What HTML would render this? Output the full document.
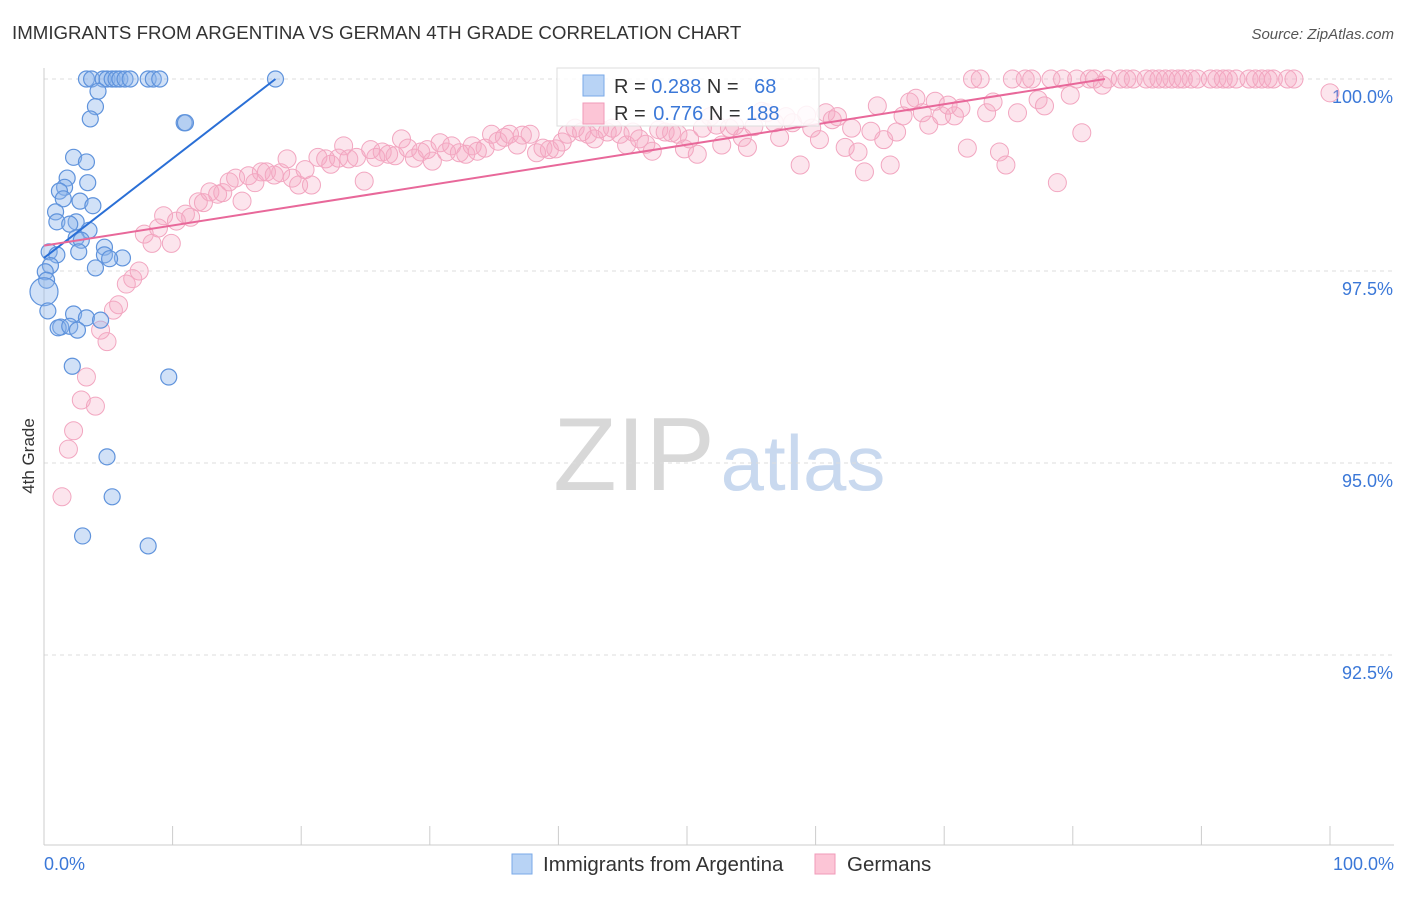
<!DOCTYPE html>
<html><head><meta charset="utf-8"><style>
body{margin:0;background:#fff;font-family:"Liberation Sans",sans-serif;}
svg text{font-family:"Liberation Sans",sans-serif;}
</style></head><body>
<svg id="c" width="1406" height="892" xmlns="http://www.w3.org/2000/svg">
<text x="12" y="39" font-size="18.7" fill="#333">IMMIGRANTS FROM ARGENTINA VS GERMAN 4TH GRADE CORRELATION CHART</text>
<text x="1394" y="39" font-size="15" fill="#555" text-anchor="end" font-style="italic">Source: ZipAtlas.com</text>
<text x="34" y="456" font-size="17" fill="#333" transform="rotate(-90 34 456)" text-anchor="middle">4th Grade</text>
<g>
<text x="634" y="490" font-size="104" fill="#d8d8d8" font-family="Liberation Serif" text-anchor="middle">ZIP</text>
<text x="803" y="490" font-size="78" fill="#c9d9ef" text-anchor="middle">atlas</text>
</g>
<g id="grid"></g><g id="pts"></g><g id="lines"></g>
<g>
<rect x="557" y="68" width="262" height="58" fill="#fff" fill-opacity="0.85" stroke="#ddd"/>
<rect x="583" y="75" width="21" height="21" fill="#b8d3f5" stroke="#7aaae8"/>
<rect x="583" y="103" width="21" height="21" fill="#fcc5d6" stroke="#f09ab8"/>
<text x="614" y="93" font-size="20" fill="#333">R = <tspan fill="#3b78d8">0.288</tspan>   N = <tspan fill="#3b78d8" dx="10">68</tspan></text>
<text x="614" y="120" font-size="20" fill="#333">R = <tspan fill="#3b78d8" dx="2">0.776</tspan>   N = <tspan fill="#3b78d8">188</tspan></text>
</g>
<g>
<rect x="512" y="854" width="20" height="20" fill="#b8d3f5" stroke="#7aaae8"/>
<text x="543" y="871" font-size="20.5" fill="#333">Immigrants from Argentina</text>
<rect x="815" y="854" width="20" height="20" fill="#fcc5d6" stroke="#f09ab8"/>
<text x="847" y="871" font-size="20.5" fill="#333">Germans</text>
</g>
<text x="44" y="870" font-size="18" fill="#3b78d8">0.0%</text>
<text x="1394" y="870" font-size="18" fill="#3b78d8" text-anchor="end">100.0%</text>
</svg>
<script>
const yTicks=[100,97.5,95,92.5];
const yTickLabels=["100.0%","97.5%","95.0%","92.5%"];
const xTicks=[0,10,20,30,40,50,60,70,80,90,100];
const blueX=[3.3,3.7,4.6,4.9,5.3,5.6,5.9,6.3,6.7,8.1,8.5,9.0,18.0,4.2,4.0,3.6,10.9,11.0,2.3,3.3,1.8,3.4,1.6,1.2,1.5,2.8,3.8,0.9,1.0,2.5,2.0,3.5,2.5,2.9,4.7,0.4,1.0,2.7,4.7,6.1,5.1,0.5,4.0,0.1,0.2,0,0.3,2.3,3.3,4.4,1.3,1.1,2.0,2.6,2.2,9.7,4.9,5.3,3.0,8.1];
const blueY=[100,100,100,100,100,100,100,100,100,100,100,100,100,99.84,99.64,99.48,99.43,99.43,98.98,98.92,98.71,98.65,98.59,98.54,98.44,98.41,98.35,98.27,98.14,98.14,98.11,98.03,97.93,97.90,97.81,97.75,97.71,97.75,97.71,97.67,97.66,97.57,97.54,97.49,97.38,97.23,96.98,96.94,96.89,96.86,96.77,96.76,96.78,96.73,96.26,96.12,95.08,94.56,94.05,93.92];
const pinkX=[1.4,1.9,2.3,2.9,4.0,3.3,4.9,4.4,5.4,5.8,6.4,6.9,7.4,7.8,8.4,8.9,9.9,9.3,10.3,11.0,11.4,12.0,12.4,12.9,13.5,13.9,14.4,14.9,15.4,15.9,16.4,16.9,17.3,17.9,18.4,18.9,19.3,19.8,20.3,20.8,21.3,21.9,22.3,22.9,23.3,23.7,24.3,24.9,25.4,25.8,26.3,26.8,27.3,27.8,28.3,28.8,29.3,29.8,30.2,30.8,31.3,31.7,32.3,32.8,33.3,33.7,34.3,34.8,35.3,35.8,36.2,36.8,37.2,37.8,38.3,38.8,39.3,39.8,40.3,40.7,41.3,41.8,42.3,42.8,43.2,43.8,44.2,44.8,45.3,45.8,46.3,46.8,47.3,47.8,48.3,48.8,49.3,49.8,50.2,50.8,51.2,51.8,52.3,52.7,53.3,53.7,54.3,54.7,55.2,55.8,56.2,56.8,57.2,57.7,58.2,58.8,59.3,59.7,60.3,60.8,61.3,61.7,62.3,62.8,63.3,63.8,64.3,64.8,65.3,65.8,66.3,66.8,67.3,67.8,68.3,68.8,69.3,69.8,70.3,70.8,71.3,71.8,72.2,72.8,73.3,73.8,74.3,74.8,75.3,75.7,76.3,76.8,77.3,77.8,78.3,78.8,79.2,79.8,80.3,80.7,81.3,81.7,82.3,82.7,83.7,84.2,84.7,85.7,86.2,86.7,87.2,87.7,88.2,88.6,89.2,89.7,90.7,91.2,91.7,92.1,92.7,93.7,94.2,94.7,95.2,95.6,96.7,97.2,100];
const pinkY=[94.56,95.18,95.42,95.82,95.74,96.12,96.58,96.73,96.99,97.06,97.33,97.40,97.50,97.98,97.86,98.06,97.86,98.22,98.15,98.24,98.20,98.40,98.39,98.53,98.50,98.52,98.66,98.71,98.41,98.74,98.65,98.79,98.79,98.75,98.78,98.96,98.71,98.62,98.82,98.62,98.98,98.96,98.89,98.97,99.13,98.96,98.98,98.67,99.08,98.98,99.05,99.02,99.00,99.22,99.10,98.97,99.05,99.08,98.93,99.17,99.05,99.13,99.04,99.02,99.13,99.06,99.10,99.28,99.19,99.24,99.28,99.14,99.27,99.28,99.04,99.10,99.08,99.09,99.18,99.28,99.36,99.31,99.28,99.22,99.35,99.31,99.36,99.28,99.14,99.31,99.22,99.15,99.06,99.34,99.31,99.30,99.28,99.09,99.22,99.02,99.36,99.51,99.40,99.14,99.36,99.39,99.24,99.11,99.38,99.58,99.56,99.43,99.24,99.51,99.43,98.88,99.53,99.36,99.21,99.56,99.47,99.51,99.11,99.36,99.05,98.79,99.32,99.65,99.21,98.88,99.31,99.52,99.70,99.75,99.56,99.40,99.71,99.52,99.66,99.52,99.62,99.10,100,100,99.56,99.70,99.05,98.88,100,99.56,100,100,99.73,99.65,100,98.65,100,99.79,100,99.30,100,100,99.92,100,100,100,100,100,100,100,100,100,100,100,100,100,100,100,100,100,100,100,100,100,100,100,100,100,99.82];
const blueLine=[[0,97.67],[18,100]];
const pinkLine=[[0,97.83],[82.5,100]];
const X0=44,X1=1330,YT=79,PX=76.8;
const sx=v=>X0+(X1-X0)*v/100;
const sy=v=>YT+(100-v)*PX;
const NS="http://www.w3.org/2000/svg";
function mk(t,a,p){const e=document.createElementNS(NS,t);for(const k in a)e.setAttribute(k,a[k]);p.appendChild(e);return e;}
const g=document.getElementById('grid');
yTicks.forEach((t,i)=>{
 const l=mk('line',{x1:X0,x2:1394,y1:sy(t),y2:sy(t),stroke:'#ddd','stroke-dasharray':'4,4'},g);
 
 
 const tx=mk('text',{x:1393,y:sy(t)+24,'font-size':18,fill:'#3b78d8','text-anchor':'end'},g);
 tx.textContent=yTickLabels[i];
 
 
});
const ax=mk('line',{x1:X0,x2:1394,y1:845,y2:845,stroke:'#ccc'},g);


const ay=mk('line',{x1:X0,x2:X0,y1:68,y2:845,stroke:'#ccc'},g);


xTicks.forEach(t=>{const l=mk('line',{x1:sx(t),x2:sx(t),y1:826,y2:845,stroke:'#ccc'},g);
 
 });
const p=document.getElementById('pts');
pinkX.forEach((x,i)=>{const c=mk('circle',{cx:sx(x),cy:sy(pinkY[i]),r:9,fill:'rgba(246,170,196,0.3)',stroke:'#f2a6c0','stroke-width':1},p);
 
 });
blueX.forEach((x,i)=>{const c=mk('circle',{cx:sx(x),cy:sy(blueY[i]),r:(i==45?14:8),fill:'rgba(140,180,235,0.4)',stroke:'#5f93dc','stroke-width':1.2},p);
 
 });
const L=document.getElementById('lines');
const bl=mk('line',{x1:sx(blueLine[0][0]),y1:sy(blueLine[0][1]),x2:sx(blueLine[1][0]),y2:sy(blueLine[1][1]),stroke:'#2a6fd6','stroke-width':2},L);


const pl=mk('line',{x1:sx(pinkLine[0][0]),y1:sy(pinkLine[0][1]),x2:sx(pinkLine[1][0]),y2:sy(pinkLine[1][1]),stroke:'#e8689a','stroke-width':2},L);


</script>
</body></html>
